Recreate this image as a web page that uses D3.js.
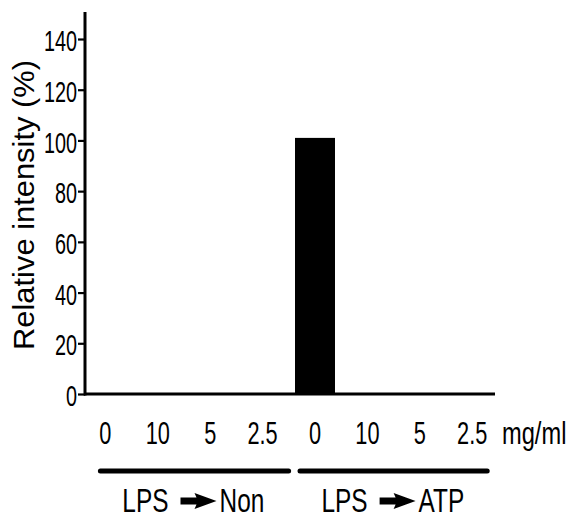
<!DOCTYPE html>
<html>
<head>
<meta charset="utf-8">
<script src="https://cdn.jsdelivr.net/npm/d3@7"></script>
<style>
html,body{margin:0;padding:0;background:#fff;}
svg text{font-family:Arial,"Liberation Sans",sans-serif;fill:#000;}
</style>
</head>
<body>
<svg id="chart" width="575" height="522"></svg>
<script>
// ---- data ----
const categories = ["0","10","5","2.5","0","10","5","2.5"];
const values = [0,0,0,0,101,0,0,0];
const yTicks = [0,20,40,60,80,100,120,140];
const groupLabels = ["LPS", "LPS"];
const groupTargets = ["Non", "ATP"];
const groupRanges = [[0,3],[4,7]];
const unitLabel = "mg/ml";
const yTitle = "Relative intensity (%)";

const svg = d3.select("#chart");
const keys = categories.map((c,i)=>i);

const x = d3.scaleBand().domain(keys).range([79.2, 498.4]).paddingInner(0.237).paddingOuter(0.1185);
const y = d3.scaleLinear().domain([0,140]).range([394, 39]);
const cxOf = i => x(i) + x.bandwidth()/2;

// bars
svg.append("g").selectAll("rect").data(values).join("rect")
  .attr("x",(d,i)=>x(i))
  .attr("width",x.bandwidth())
  .attr("y",d=>y(d))
  .attr("height",d=>y(0)-y(d))
  .attr("fill","#000");

// y axis
const yAxis = svg.append("g").attr("transform","translate(85,0)")
  .call(d3.axisLeft(y).tickValues(yTicks).tickSize(7).tickFormat(d3.format("d")));
yAxis.select(".domain").remove();
yAxis.selectAll(".tick line").attr("stroke","#000").attr("stroke-width",2.2);
yAxis.selectAll(".tick text")
  .attr("x",null).attr("dy",null)
  .attr("font-size",30)
  .attr("text-anchor","end")
  .attr("dominant-baseline","central")
  .attr("transform",`translate(-8,1) scale(0.66,1)`);
svg.append("line").attr("x1",85).attr("x2",85).attr("y1",12).attr("y2",y(0)+1.5)
  .attr("stroke","#000").attr("stroke-width",3);

// x axis baseline
svg.append("line").attr("x1",84).attr("x2",495).attr("y1",y(0)).attr("y2",y(0))
  .attr("stroke","#000").attr("stroke-width",3);

// category labels
svg.append("g").selectAll("text").data(categories).join("text")
  .attr("transform",(d,i)=>`translate(${cxOf(i)},444) scale(0.68,1)`)
  .attr("text-anchor","middle").attr("font-size",32)
  .text(d=>d);

svg.append("text")
  .attr("transform",`translate(502,444) scale(0.74,1)`)
  .attr("font-size",32).text(unitLabel);

// group brackets and labels
const bracketPad = [[5, 26], [15, 15]];
groupRanges.forEach((r,gi)=>{
  const x1 = cxOf(r[0]) - bracketPad[gi][0];
  const x2 = cxOf(r[1]) + bracketPad[gi][1];
  svg.append("line").attr("x1",x1).attr("x2",x2).attr("y1",471).attr("y2",471)
    .attr("stroke","#000").attr("stroke-width",5).attr("stroke-linecap","round");
  const cx = (x1 + x2)/2 - 2;
  svg.append("text")
    .attr("transform",`translate(${cx-24},512) scale(0.74,1)`)
    .attr("text-anchor","end").attr("font-size",33)
    .text(groupLabels[gi]);
  // arrow
  const ax = cx - 12, ay = 501;
  svg.append("path")
    .attr("d",`M${ax},${ay-3.5} L${ax+16},${ay-3.5} L${ax+14},${ay-8} L${ax+36},${ay} L${ax+14},${ay+8} L${ax+16},${ay+3.5} L${ax},${ay+3.5} Z`)
    .attr("fill","#000");
  svg.append("text")
    .attr("transform",`translate(${cx+27},512) scale(0.74,1)`)
    .attr("text-anchor","start").attr("font-size",33)
    .text(groupTargets[gi]);
});

// y title
svg.append("text")
  .attr("transform","translate(34,205) rotate(-90)")
  .attr("text-anchor","middle").attr("font-size",30)
  .attr("textLength",290).attr("lengthAdjust","spacingAndGlyphs")
  .text(yTitle);
</script>
</body>
</html>
